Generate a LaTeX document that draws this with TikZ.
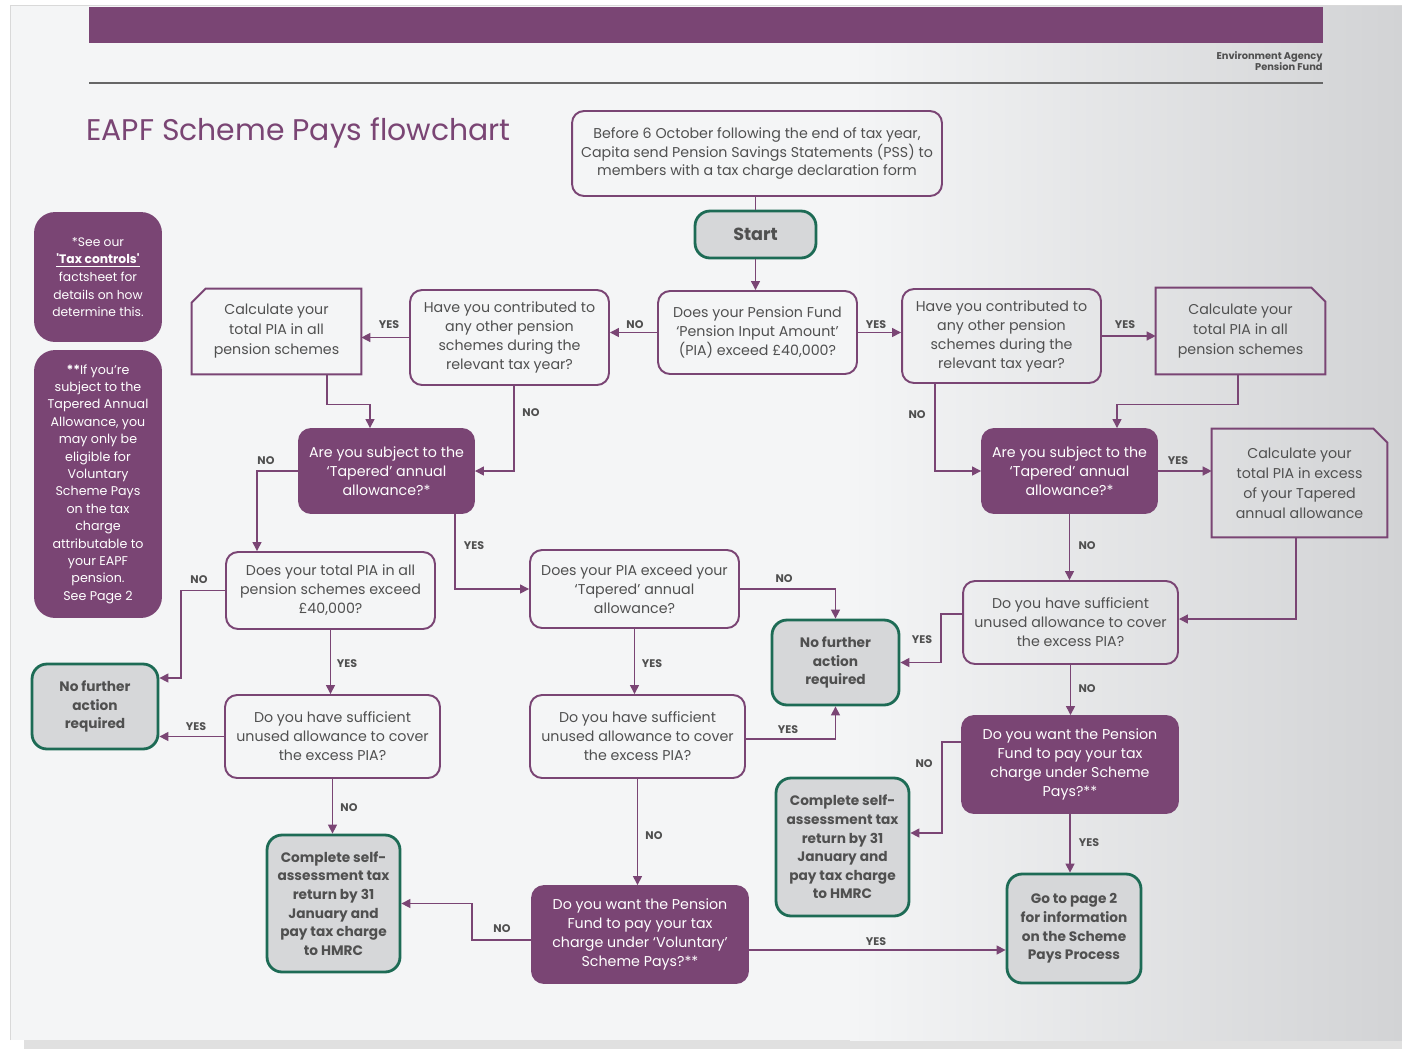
\documentclass[tikz,border=0pt]{standalone}
\usepackage{fontspec}
\setmainfont{Poppins}
\usetikzlibrary{arrows.meta,calc}
\definecolor{eapurple}{HTML}{7A4574}
\definecolor{eagreen}{HTML}{1D6B55}
\definecolor{eagrey}{HTML}{D6D7D9}
\definecolor{eatext}{HTML}{505050}
\definecolor{eapage}{HTML}{F4F5F6}
\definecolor{eashade}{HTML}{D2D3D5}

\begin{document}
\begin{tikzpicture}[x=0.02cm,y=-0.02cm,
    qbox/.style={draw=eapurple,line width=1.1pt,rounded corners=0.24cm,align=center,text=eatext,
      inner sep=1pt,font=\fontsize{8.1}{10.8}\selectfont},
    pbox/.style={qbox,fill=eapurple,text=white},
    gbox/.style={draw=eagreen,line width=1.6pt,fill=eagrey,rounded corners=0.3cm,align=center,text=eatext,
      inner sep=1pt,font=\bfseries\fontsize{7.8}{10.6}\selectfont},
    cbox/.style={align=center,text=eatext,inner sep=1pt,font=\fontsize{8.1}{11.4}\selectfont},
    snip/.style={draw=eapurple,line width=1.1pt},
    arr/.style={draw=eapurple,line width=0.75pt,-{Triangle[length=0.18cm,width=0.18cm]}},
    lbl/.style={text=eatext,inner sep=0pt,font=\bfseries\fontsize{6.3}{7}\selectfont}]
    \useasboundingbox (0,0) rectangle (1402,1049);
    % page and header
    \fill[white] (0,0) rectangle (1402,1049);
    \fill[black!12] (24,1040) rectangle (1402,1049);
    \fill[eapage] (10,5) rectangle (1402,1040);
    \shade[left color=eapage,right color=eashade] (850,5) rectangle (1402,1040);
    \draw[black!15] (10,1040) -- (10,5) -- (1402,5);
    \fill[eapurple] (89,7) rectangle (1323,43);
    \draw[black!60,line width=1.1pt] (89,83) -- (1323,83);
    \node[anchor=north east,align=right,text=eatext,inner sep=0pt,
      font=\bfseries\fontsize{5.6}{6.6}\selectfont] (agency) at (1323,51) {Environment Agency\\Pension Fund};
    \node[anchor=west,text=eapurple,inner sep=0pt,font=\fontsize{17}{20}\selectfont] (title) at (86,133)
      {EAPF Scheme Pays flowchart};

    % side notes
    \node[pbox,rounded corners=0.4cm,minimum width=2.52cm,minimum height=2.56cm,
      font=\fontsize{7}{10}\selectfont] (note1) at (98,277)
      {*See our\\\textbf{\underline{\textquotesingle Tax controls\textquotesingle}}\\factsheet for\\details on how\\determine this.};
    \node[pbox,rounded corners=0.4cm,minimum width=2.52cm,minimum height=5.32cm,
      font=\fontsize{7.2}{9.9}\selectfont] (note2) at (98,484)
      {\textbf{**}If you’re\\subject to the\\Tapered Annual\\Allowance, you\\may only be\\eligible for\\Voluntary\\Scheme Pays\\on the tax\\charge\\attributable to\\your EAPF\\pension.\\See Page 2};

    % top row
    \node[qbox,minimum width=7.4cm,minimum height=1.7cm] (pss) at (757,153.5)
      {Before 6 October following the end of tax year,\\Capita send Pension Savings Statements (PSS) to\\members with a tax charge declaration form};
    \node[gbox,minimum width=2.42cm,minimum height=0.94cm,font=\bfseries\fontsize{10}{12}\selectfont] (start) at (755.5,234.5) {Start};
    \node[qbox,minimum width=3.98cm,minimum height=1.66cm] (pia) at (757.5,332.5)
      {Does your Pension Fund\\‘Pension Input Amount’\\(PIA) exceed £40,000?};
    \node[qbox,minimum width=3.98cm,minimum height=1.9cm] (contribL) at (509.5,337.5)
      {Have you contributed to\\any other pension\\schemes during the\\relevant tax year?};
    \node[qbox,minimum width=3.98cm,minimum height=1.88cm] (contribR) at (1001.5,336)
      {Have you contributed to\\any other pension\\schemes during the\\relevant tax year?};
    \node[cbox,minimum width=3.38cm,minimum height=1.7cm] (calcL) at (276.5,331.5)
      {Calculate your\\total PIA in all\\pension schemes};
    \node[cbox,minimum width=3.38cm,minimum height=1.72cm] (calcR) at (1240.5,331)
      {Calculate your\\total PIA in all\\pension schemes};
    \draw[snip] ($(calcL.north west)+(0,14)$) -- ($(calcL.north west)+(14,0)$) -- (calcL.north east)
      -- (calcL.south east) -- (calcL.south west) -- cycle;
    \draw[snip] ($(calcR.north east)+(0,14)$) -- ($(calcR.north east)+(-14,0)$) -- (calcR.north west)
      -- (calcR.south west) -- (calcR.south east) -- cycle;

    % tapered questions
    \node[pbox,minimum width=3.5cm,minimum height=1.68cm] (taperL) at (386.5,471)
      {Are you subject to the\\‘Tapered’ annual\\allowance?*};
    \node[pbox,minimum width=3.5cm,minimum height=1.68cm] (taperR) at (1069.5,471)
      {Are you subject to the\\‘Tapered’ annual\\allowance?*};
    \node[cbox,minimum width=3.5cm,minimum height=2.16cm] (calcExR) at (1299.5,483)
      {Calculate your\\total PIA in excess\\of your Tapered\\annual allowance};
    \draw[snip] ($(calcExR.north east)+(0,14)$) -- ($(calcExR.north east)+(-14,0)$) -- (calcExR.north west)
      -- (calcExR.south west) -- (calcExR.south east) -- cycle;

    % middle rows
    \node[qbox,minimum width=4.18cm,minimum height=1.54cm] (totalL) at (330.5,590.5)
      {Does your total PIA in all\\pension schemes exceed\\£40,000?};
    \node[qbox,minimum width=4.18cm,minimum height=1.56cm] (exceedM) at (634.5,589)
      {Does your PIA exceed your\\‘Tapered’ annual\\allowance?};
    \node[gbox,minimum width=2.54cm,minimum height=1.7cm] (nfaM) at (835.5,662.5)
      {No further\\action\\required};
    \node[qbox,minimum width=4.3cm,minimum height=1.66cm] (suffR) at (1070.5,622.5)
      {Do you have sufficient\\unused allowance to cover\\the excess PIA?};
    \node[gbox,minimum width=2.52cm,minimum height=1.7cm] (nfaL) at (95,706.5)
      {No further\\action\\required};
    \node[qbox,minimum width=4.3cm,minimum height=1.66cm] (suffL) at (332.5,736.5)
      {Do you have sufficient\\unused allowance to cover\\the excess PIA?};
    \node[qbox,minimum width=4.3cm,minimum height=1.66cm] (suffM) at (637.5,736.5)
      {Do you have sufficient\\unused allowance to cover\\the excess PIA?};
    \node[pbox,minimum width=4.32cm,minimum height=1.94cm] (wantR) at (1070,764.5)
      {Do you want the Pension\\Fund to pay your tax\\charge under Scheme\\Pays?**};

    % bottom row
    \node[gbox,minimum width=2.66cm,minimum height=2.76cm] (selfM) at (842.5,847)
      {Complete self-\\assessment tax\\return by 31\\January and\\pay tax charge\\to HMRC};
    \node[gbox,minimum width=2.66cm,minimum height=2.74cm] (selfL) at (333.5,903.5)
      {Complete self-\\assessment tax\\return by 31\\January and\\pay tax charge\\to HMRC};
    \node[pbox,minimum width=4.32cm,minimum height=1.94cm] (wantM) at (640,934.5)
      {Do you want the Pension\\Fund to pay your tax\\charge under ‘Voluntary’\\Scheme Pays?**};
    \node[gbox,minimum width=2.68cm,minimum height=2.18cm] (page2) at (1074,928.5)
      {Go to page 2\\for information\\on the Scheme\\Pays Process};

    % connectors
    \draw[eapurple,line width=0.75pt] (start.north |- pss.south) -- (start.north);
    \draw[arr] (start.south) -- (start.south |- pia.north);
    \draw[arr] (pia.west) -- (pia.west -| contribL.east);
    \draw[arr] (pia.east) -- (pia.east -| contribR.west);
    \draw[arr] (contribL.west) -- (contribL.west -| calcL.east);
    \draw[arr] (contribR.east) -- (contribR.east -| calcR.west);
    \draw[arr] ($(calcL.south)+(50.5,0)$) -- ++(0,30) -| ($(taperL.north)+(-16.5,0)$);
    \draw[arr] ($(contribL.south)+(4.5,0)$) |- (taperL.east);
    \draw[arr] ($(calcR.south)+(-2.5,0)$) -- ++(0,30) -| ($(taperR.north)+(47.5,0)$);
    \draw[arr] ($(contribR.south)+(-66.5,0)$) |- (taperR.west);
    \draw[arr] (taperL.west) -| ($(totalL.north)+(-73.5,0)$);
    \draw[arr] ($(taperL.south)+(68.5,0)$) |- (exceedM.west);
    \draw[arr] (taperR.east) -- (taperR.east -| calcExR.west);
    \draw[arr] (taperR.south) -- (taperR.south |- suffR.north);
    \draw[arr] ($(calcExR.south)+(-3.5,0)$) |- ($(suffR.east)+(0,-3.5)$);
    \draw[arr] (totalL.west) -- ++(-44,0) |- ($(nfaL.east)+(0,-28.5)$);
    \draw[arr] (totalL.south) -- (totalL.south |- suffL.north);
    \draw[arr] (suffL.west) -- (suffL.west -| nfaL.east);
    \draw[arr] (suffL.south) -- (suffL.south |- selfL.north);
    \draw[arr] (exceedM.east) -| (nfaM.north);
    \draw[arr] (exceedM.south) -- (exceedM.south |- suffM.north);
    \draw[arr] ($(suffM.east)+(0,2.5)$) -| (nfaM.south);
    \draw[arr] (suffM.south) -- (suffM.south |- wantM.north);
    \draw[arr] ($(suffR.west)+(0,-8.5)$) -- ++(-21,0) |- (nfaM.east);
    \draw[arr] (suffR.south) -- (suffR.south |- wantR.north);
    \draw[arr] ($(wantR.west)+(0,-22.5)$) -- ++(-19,0) |- ($(selfM.east)+(0,-14)$);
    \draw[arr] (wantR.south) -- (wantR.south |- page2.north);
    \draw[arr] ($(wantM.west)+(0,5.5)$) -- ++(-59,0) |- (selfL.east);
    \draw[arr] ($(wantM.east)+(0,15.5)$) -- ($(page2.west)+(0,21.5)$);

    % yes / no labels
    \node[lbl] (lPiaNo) at (635,325) {NO};
    \node[lbl] (lPiaYes) at (876,325) {YES};
    \node[lbl] (lConLYes) at (389,325) {YES};
    \node[lbl] (lConRYes) at (1125,325) {YES};
    \node[lbl] (lConLNo) at (531,413) {NO};
    \node[lbl] (lConRNo) at (917,415) {NO};
    \node[lbl] (lTapLNo) at (266,461) {NO};
    \node[lbl] (lTapLYes) at (474,546) {YES};
    \node[lbl] (lTapRYes) at (1178,461) {YES};
    \node[lbl] (lTapRNo) at (1087,546) {NO};
    \node[lbl] (lTotNo) at (199,580) {NO};
    \node[lbl] (lTotYes) at (347,664) {YES};
    \node[lbl] (lSufLYes) at (196,727) {YES};
    \node[lbl] (lSufLNo) at (349,808) {NO};
    \node[lbl] (lExcNo) at (784,579) {NO};
    \node[lbl] (lExcYes) at (652,664) {YES};
    \node[lbl] (lSufMYes) at (788,730) {YES};
    \node[lbl] (lSufMNo) at (654,836) {NO};
    \node[lbl] (lSufRYes) at (922,640) {YES};
    \node[lbl] (lSufRNo) at (1087,689) {NO};
    \node[lbl] (lWantRNo) at (924,764) {NO};
    \node[lbl] (lWantRYes) at (1089,843) {YES};
    \node[lbl] (lWantMNo) at (502,929) {NO};
    \node[lbl] (lWantMYes) at (876,942) {YES};
\end{tikzpicture}
\end{document}
